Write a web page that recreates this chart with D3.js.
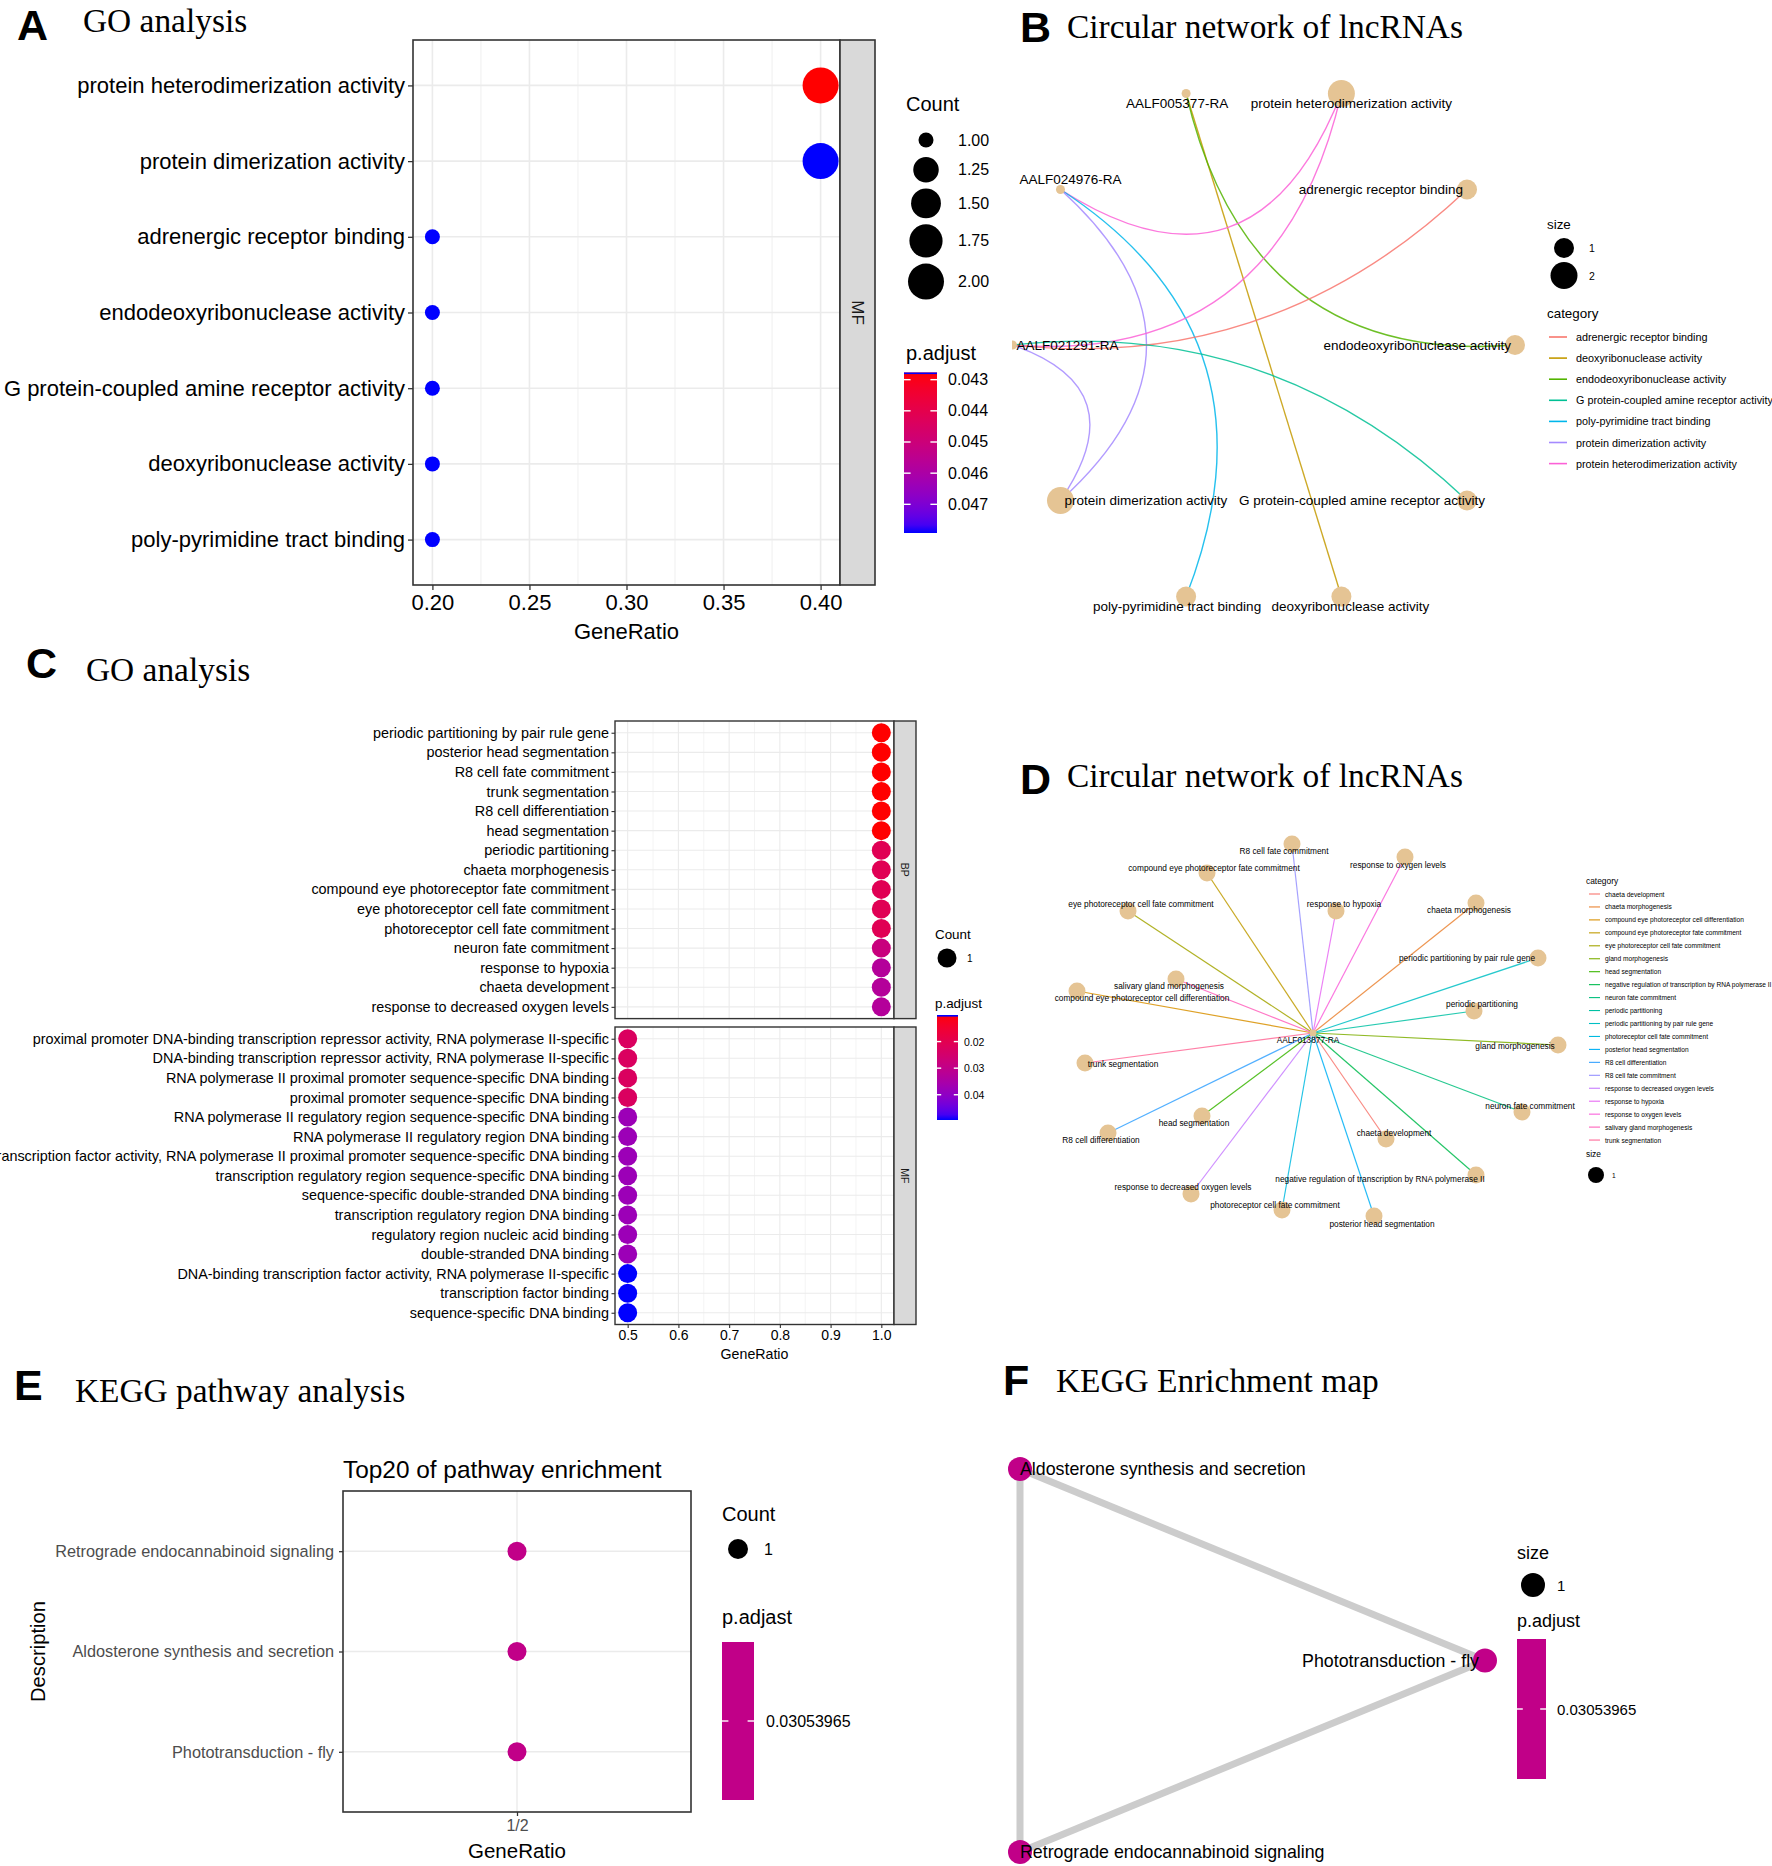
<!DOCTYPE html>
<html>
<head>
<meta charset="utf-8">
<script src="https://cdn.jsdelivr.net/npm/d3@7"></script>
<style>
  body { margin: 0; background: #fff; }
  svg { display: block; }
</style>
</head>
<body>
<svg id="fig" width="1772" height="1866"></svg>
<script>
// ---------- data ----------
// A: GO dot plot (MF)
var goA_terms = ["protein heterodimerization activity", "protein dimerization activity",
  "adrenergic receptor binding", "endodeoxyribonuclease activity",
  "G protein-coupled amine receptor activity", "deoxyribonuclease activity",
  "poly-pyrimidine tract binding"];
var goA_ratio = [0.4, 0.4, 0.2, 0.2, 0.2, 0.2, 0.2];
var goA_count = [2, 2, 1, 1, 1, 1, 1];
var goA_padj = [0.04277, 0.04792, 0.04792, 0.04792, 0.04792, 0.04792, 0.04792];
var goA_xticks = [0.20, 0.25, 0.30, 0.35, 0.40];
var goA_countBreaks = [1.00, 1.25, 1.50, 1.75, 2.00];
var goA_padjBreaks = [0.043, 0.044, 0.045, 0.046, 0.047];

// B: circular gene-concept network
var cnetB_circle = ["endodeoxyribonuclease activity", "adrenergic receptor binding",
  "protein heterodimerization activity", "AALF005377-RA", "AALF024976-RA", "AALF021291-RA",
  "protein dimerization activity", "poly-pyrimidine tract binding", "deoxyribonuclease activity",
  "G protein-coupled amine receptor activity"];
var cnetB_genes = ["AALF005377-RA", "AALF024976-RA", "AALF021291-RA"];
var cnetB_links = [
  ["AALF005377-RA", "deoxyribonuclease activity"],
  ["AALF005377-RA", "endodeoxyribonuclease activity"],
  ["AALF024976-RA", "protein heterodimerization activity"],
  ["AALF024976-RA", "poly-pyrimidine tract binding"],
  ["AALF024976-RA", "protein dimerization activity"],
  ["AALF021291-RA", "protein heterodimerization activity"],
  ["AALF021291-RA", "adrenergic receptor binding"],
  ["AALF021291-RA", "G protein-coupled amine receptor activity"],
  ["AALF021291-RA", "protein dimerization activity"]];
var cnetB_categories = ["adrenergic receptor binding", "deoxyribonuclease activity",
  "endodeoxyribonuclease activity", "G protein-coupled amine receptor activity",
  "poly-pyrimidine tract binding", "protein dimerization activity",
  "protein heterodimerization activity"];
var cnetB_sizeBreaks = [1, 2];

// C: GO dot plot, BP and MF facets
var goC_bp = ["periodic partitioning by pair rule gene", "posterior head segmentation",
  "R8 cell fate commitment", "trunk segmentation", "R8 cell differentiation", "head segmentation",
  "periodic partitioning", "chaeta morphogenesis", "compound eye photoreceptor fate commitment",
  "eye photoreceptor cell fate commitment", "photoreceptor cell fate commitment",
  "neuron fate commitment", "response to hypoxia", "chaeta development",
  "response to decreased oxygen levels"];
var goC_bpRatio = [1, 1, 1, 1, 1, 1, 1, 1, 1, 1, 1, 1, 1, 1, 1];
var goC_bpCount = [1, 1, 1, 1, 1, 1, 1, 1, 1, 1, 1, 1, 1, 1, 1];
var goC_bpPadj = [0.0100, 0.0100, 0.0100, 0.0100, 0.0100, 0.0100, 0.0207, 0.0207, 0.0207,
  0.0207, 0.0207, 0.0278, 0.0329, 0.0329, 0.0329];
var goC_mf = ["proximal promoter DNA-binding transcription repressor activity, RNA polymerase II-specific",
  "DNA-binding transcription repressor activity, RNA polymerase II-specific",
  "RNA polymerase II proximal promoter sequence-specific DNA binding",
  "proximal promoter sequence-specific DNA binding",
  "RNA polymerase II regulatory region sequence-specific DNA binding",
  "RNA polymerase II regulatory region DNA binding",
  "transcription factor activity, RNA polymerase II proximal promoter sequence-specific DNA binding",
  "transcription regulatory region sequence-specific DNA binding",
  "sequence-specific double-stranded DNA binding", "transcription regulatory region DNA binding",
  "regulatory region nucleic acid binding", "double-stranded DNA binding",
  "DNA-binding transcription factor activity, RNA polymerase II-specific",
  "transcription factor binding", "sequence-specific DNA binding"];
var goC_mfRatio = [0.5, 0.5, 0.5, 0.5, 0.5, 0.5, 0.5, 0.5, 0.5, 0.5, 0.5, 0.5, 0.5, 0.5, 0.5];
var goC_mfCount = [1, 1, 1, 1, 1, 1, 1, 1, 1, 1, 1, 1, 1, 1, 1];
var goC_mfPadj = [0.0226, 0.0226, 0.0226, 0.0226, 0.0377, 0.0377, 0.0377, 0.0377, 0.0377,
  0.0377, 0.0377, 0.0377, 0.0495, 0.0495, 0.0495];
var goC_xticks = [0.5, 0.6, 0.7, 0.8, 0.9, 1.0];
var goC_padjBreaks = [0.02, 0.03, 0.04];

// D: gene-concept network around one lncRNA (kk layout coordinates)
var cnetD_gene = "AALF013877-RA";
var cnetD_terms = ["chaeta development", "chaeta morphogenesis",
  "compound eye photoreceptor cell differentiation", "compound eye photoreceptor fate commitment",
  "eye photoreceptor cell fate commitment", "gland morphogenesis", "head segmentation",
  "negative regulation of transcription by RNA polymerase II", "neuron fate commitment",
  "periodic partitioning", "periodic partitioning by pair rule gene",
  "photoreceptor cell fate commitment", "posterior head segmentation", "R8 cell differentiation",
  "R8 cell fate commitment", "response to decreased oxygen levels", "response to hypoxia",
  "response to oxygen levels", "salivary gland morphogenesis", "trunk segmentation"];
var cnetD_lx = [0.73, 1.63, -2.36, -1.06, -1.85, 2.45, -1.11, 1.63, 2.09, 1.61, 2.25, -0.31,
  0.61, -2.05, -0.21, -1.22, 0.23, 0.92, -1.37, -2.28];
var cnetD_ly = [-1.06, 1.30, 0.42, 1.60, 1.22, -0.12, -0.83, -1.42, -0.79, 0.22, 0.75, -1.77,
  -1.83, -1.00, 1.89, -1.61, 1.22, 1.76, 0.54, -0.30];

// E: KEGG dot plot
var keggE_terms = ["Retrograde endocannabinoid signaling", "Aldosterone synthesis and secretion",
  "Phototransduction - fly"];
var keggE_ratio = ["1/2", "1/2", "1/2"];
var keggE_count = [1, 1, 1];
var keggE_padj = [0.03053965, 0.03053965, 0.03053965];

// F: KEGG enrichment map (layout coordinates)
var emapF_terms = ["Aldosterone synthesis and secretion", "Phototransduction - fly",
  "Retrograde endocannabinoid signaling"];
var emapF_lx = [0, 1, 0];
var emapF_ly = [1, 0.5, 0];
var emapF_links = [[0, 1], [0, 2], [1, 2]];
var emapF_padj = [0.03053965, 0.03053965, 0.03053965];

// ---------- helpers ----------
var SANS = '"Liberation Sans", Arial, Helvetica, sans-serif';
var SERIF = '"Liberation Serif", "Times New Roman", serif';
var NODE = "#E5C494";
var svg = d3.select("#fig");
var defs = svg.append("defs");

function txt(g, x, y, s, size, o) {
  o = o || {};
  var t = g.append("text").attr("x", x).attr("y", y).text(s)
    .attr("font-size", size)
    .attr("font-family", o.family || SANS)
    .attr("text-anchor", o.anchor || "start")
    .attr("dominant-baseline", o.base || "central")
    .attr("fill", o.fill || "#000");
  if (o.weight) t.attr("font-weight", o.weight);
  if (o.rotate) t.attr("transform", "rotate(" + o.rotate + "," + x + "," + y + ")");
  return t;
}

function expand(ext, f) {
  var d = (ext[1] - ext[0]) * f;
  return [ext[0] - d, ext[1] + d];
}

// ggplot's hue_pal (polar LUV, c=100, l=65)
function hue(h) {
  var Xn = 95.047, Yn = 100, Zn = 108.883, l = 65, c = 100;
  var den = Xn + 15 * Yn + 3 * Zn, un = 4 * Xn / den, vn = 9 * Yn / den;
  var hr = h * Math.PI / 180;
  var Y = Yn * Math.pow((l + 16) / 116, 3);
  var u = c * Math.cos(hr) / (13 * l) + un, v = c * Math.sin(hr) / (13 * l) + vn;
  var X = Y * 9 * u / (4 * v), Z = Y * (12 - 3 * u - 20 * v) / (4 * v);
  X /= 100; Y /= 100; Z /= 100;
  var lin = [3.240479 * X - 1.53715 * Y - 0.498535 * Z,
    -0.969256 * X + 1.875992 * Y + 0.041556 * Z,
    0.055648 * X - 0.204043 * Y + 1.057311 * Z];
  var rgb = lin.map(function(q) {
    q = q <= 0.0031308 ? 12.92 * q : 1.055 * Math.pow(q, 1 / 2.4) - 0.055;
    return Math.round(255 * Math.max(0, Math.min(1, q)));
  });
  return d3.rgb(rgb[0], rgb[1], rgb[2]).formatHex();
}
function huePal(n) {
  return d3.range(n).map(function(i) { return hue(15 + 360 * i / n); });
}

function padjScale(values) {
  return d3.scaleLinear().domain(d3.extent(values)).range(["red", "blue"])
    .interpolate(d3.interpolateLab);
}

function colorbar(o) {
  var dom = o.scale.domain();
  var grad = defs.append("linearGradient").attr("id", o.id)
    .attr("x1", 0).attr("y1", 0).attr("x2", 0).attr("y2", 1);
  d3.range(0, 1.0001, 0.05).forEach(function(t) {
    grad.append("stop").attr("offset", t)
      .attr("stop-color", o.scale(dom[0] + t * (dom[1] - dom[0])));
  });
  svg.append("rect").attr("x", o.x).attr("y", o.y).attr("width", o.w).attr("height", o.h)
    .attr("fill", "url(#" + o.id + ")");
  if (o.topLine) {
    svg.append("rect").attr("x", o.x).attr("y", o.y).attr("width", o.w).attr("height", 1.6)
      .attr("fill", "blue");
  }
  var yb = d3.scaleLinear().domain(dom).range([o.y, o.y + o.h]);
  var tl = o.w / 5;
  o.breaks.forEach(function(b) {
    var yy = dom[0] === dom[1] ? o.y + o.h / 2 : yb(b);
    svg.append("line").attr("x1", o.x).attr("x2", o.x + tl).attr("y1", yy).attr("y2", yy)
      .attr("stroke", "#fff").attr("stroke-width", 1.4);
    svg.append("line").attr("x1", o.x + o.w - tl).attr("x2", o.x + o.w).attr("y1", yy).attr("y2", yy)
      .attr("stroke", "#fff").attr("stroke-width", 1.4);
    txt(svg, o.labelX, yy, o.fmt(b), o.fs);
  });
}

// one ggplot-style dot plot facet
function dotFacet(o) {
  var g = svg.append("g");
  var y = d3.scalePoint().domain(o.terms).range([o.top, o.bottom]).padding(0.6);
  if (o.minor) {
    g.selectAll("line.minor").data(o.minor).join("line")
      .attr("x1", function(d) { return o.x(d); }).attr("x2", function(d) { return o.x(d); })
      .attr("y1", o.top).attr("y2", o.bottom)
      .attr("stroke", "#EBEBEB").attr("stroke-width", o.gw * 0.5);
  }
  g.selectAll("line.majx").data(o.xticks).join("line")
    .attr("x1", function(d) { return o.x(d); }).attr("x2", function(d) { return o.x(d); })
    .attr("y1", o.top).attr("y2", o.bottom)
    .attr("stroke", "#EBEBEB").attr("stroke-width", o.gw);
  g.selectAll("line.majy").data(o.terms).join("line")
    .attr("x1", o.left).attr("x2", o.right)
    .attr("y1", function(d) { return y(d); }).attr("y2", function(d) { return y(d); })
    .attr("stroke", "#EBEBEB").attr("stroke-width", o.gw);
  g.selectAll("circle").data(o.terms).join("circle")
    .attr("cx", function(d, i) { return o.x(o.ratio[i]); })
    .attr("cy", function(d) { return y(d); })
    .attr("r", function(d, i) { return o.r(o.count[i]); })
    .attr("fill", function(d, i) { return o.color(o.padj[i]); });
  g.append("rect").attr("x", o.left).attr("y", o.top)
    .attr("width", o.right - o.left).attr("height", o.bottom - o.top)
    .attr("fill", "none").attr("stroke", "#333").attr("stroke-width", o.bw);
  var ay = g.append("g").attr("transform", "translate(" + o.left + ",0)")
    .call(d3.axisLeft(y).tickSize(o.tick).tickPadding(o.pad));
  ay.select(".domain").remove();
  ay.selectAll("line").attr("stroke", "#333").attr("stroke-width", o.bw * 0.8);
  ay.selectAll("text").attr("font-size", o.fs).attr("font-family", SANS).attr("fill", o.textFill);
  if (o.strip) {
    g.append("rect").attr("x", o.right).attr("y", o.top).attr("width", o.stripW)
      .attr("height", o.bottom - o.top)
      .attr("fill", "#D9D9D9").attr("stroke", "#333").attr("stroke-width", o.bw);
    txt(g, o.right + o.stripW / 2, (o.top + o.bottom) / 2, o.strip, o.stripFs,
      { anchor: "middle", rotate: 90, fill: "#1A1A1A" });
  }
  return y;
}

function bottomAxis(x, yPos, ticks, fmt, o) {
  var ax = svg.append("g").attr("transform", "translate(0," + yPos + ")")
    .call(d3.axisBottom(x).tickValues(ticks).tickFormat(fmt).tickSize(o.tick).tickPadding(o.pad));
  ax.select(".domain").remove();
  ax.selectAll("line").attr("stroke", "#333").attr("stroke-width", o.bw * 0.8);
  ax.selectAll("text").attr("font-size", o.fs).attr("font-family", SANS).attr("fill", o.textFill);
}

// ---------- panel headers ----------
[["A", "GO analysis", 17, 40, 83, 32],
 ["B", "Circular network of lncRNAs", 1020, 42, 1067, 38],
 ["C", "GO analysis", 26, 678, 86, 681],
 ["D", "Circular network of lncRNAs", 1020, 794, 1067, 787],
 ["E", "KEGG pathway analysis", 14, 1400, 75, 1402],
 ["F", "KEGG Enrichment map", 1003, 1395, 1056, 1392]].forEach(function(h) {
  txt(svg, h[2], h[3], h[0], 43, { weight: "bold", base: "alphabetic" });
  txt(svg, h[4], h[5], h[1], 33.4, { family: SERIF, base: "alphabetic" });
});

// ---------- A ----------
(function() {
  var L = 413, R = 840, T = 40, B = 585;
  var x = d3.scaleLinear().domain(expand(d3.extent(goA_ratio), 0.05)).range([L, R]);
  var cExt = d3.extent(goA_count);
  var size = d3.scaleLinear().domain([0, 1]).range([7.5, 18]);
  var r = function(c) { return size(Math.sqrt((c - cExt[0]) / (cExt[1] - cExt[0]))); };
  var col = padjScale(goA_padj);
  var minor = d3.pairs(goA_xticks).map(function(p) { return (p[0] + p[1]) / 2; });
  dotFacet({ terms: goA_terms, ratio: goA_ratio, count: goA_count, padj: goA_padj,
    x: x, r: r, color: col, left: L, right: R, top: T, bottom: B, xticks: goA_xticks,
    minor: minor, gw: 1.6, bw: 1.6, tick: 5, pad: 3, fs: 22, textFill: "#000",
    strip: "MF", stripW: 35, stripFs: 17 });
  bottomAxis(x, B, goA_xticks, d3.format(".2f"),
    { tick: 5, pad: 4, fs: 22, bw: 1.6, textFill: "#000" });
  txt(svg, (L + R) / 2, 631, "GeneRatio", 22, { anchor: "middle" });

  txt(svg, 906, 104, "Count", 20);
  var ky = 126;
  goA_countBreaks.forEach(function(c) {
    var rr = r(c), h = Math.max(28, 2 * rr + 6), cy = ky + h / 2;
    svg.append("circle").attr("cx", 926).attr("cy", cy).attr("r", rr).attr("fill", "#000");
    txt(svg, 958, cy, d3.format(".2f")(c), 16);
    ky += h;
  });
  txt(svg, 906, 353, "p.adjust", 20);
  colorbar({ id: "gA", x: 904, y: 372.5, w: 33, h: 160.5, scale: col, breaks: goA_padjBreaks,
    labelX: 948, fs: 16, fmt: d3.format(".3f"), topLine: true });
})();

// ---------- B ----------
(function() {
  var pal = huePal(cnetB_categories.length);
  var col = d3.scaleOrdinal().domain(cnetB_categories).range(pal);
  var ang = d3.scaleLinear().domain([0, cnetB_circle.length]).range([0, 2 * Math.PI]);
  var x = d3.scaleLinear().domain([-1, 1]).range([1012.5, 1515]);
  var y = d3.scaleLinear().domain([-1, 1]).range([609.5, 80.5]);
  var pos = {};
  cnetB_circle.forEach(function(n, i) { pos[n] = [Math.cos(ang(i)), Math.sin(ang(i))]; });
  var counts = d3.rollup(cnetB_links, function(v) { return v.length; }, function(d) { return d[1]; });
  var size = d3.scaleLinear().domain(d3.extent(cnetB_sizeBreaks)).range([10, 13.5]);

  defs.append("clipPath").attr("id", "clipB").append("rect")
    .attr("x", 1012).attr("y", 50).attr("width", 760).attr("height", 600);
  var g = svg.append("g").attr("clip-path", "url(#clipB)");

  function arc(a, b) {
    var mx = (a[0] + b[0]) / 2, my = (a[1] + b[1]) / 2, m = Math.hypot(mx, my);
    var delta = Math.acos(Math.max(-1, Math.min(1, a[0] * b[0] + a[1] * b[1])));
    var k = m > 1e-6 ? 1 - 2 * 0.36 * Math.sin(delta) / m : 1;
    return "M" + x(a[0]) + "," + y(a[1]) + "Q" + x(mx * k) + "," + y(my * k) +
      " " + x(b[0]) + "," + y(b[1]);
  }
  g.selectAll("path.edge").data(cnetB_links).join("path")
    .attr("d", function(d) { return arc(pos[d[0]], pos[d[1]]); })
    .attr("fill", "none").attr("stroke", function(d) { return col(d[1]); })
    .attr("stroke-width", 1.4).attr("stroke-opacity", 0.85);
  g.selectAll("circle").data(cnetB_circle).join("circle")
    .attr("cx", function(d) { return x(pos[d][0]); })
    .attr("cy", function(d) { return y(pos[d][1]); })
    .attr("r", function(d) { return cnetB_genes.indexOf(d) >= 0 ? 4.5 : size(counts.get(d)); })
    .attr("fill", NODE);

  // label placement (repel-like nudges)
  var nudge = {
    "endodeoxyribonuclease activity": ["end", -4, 0],
    "adrenergic receptor binding": ["end", -4, 0],
    "protein heterodimerization activity": ["middle", 10, 10],
    "AALF005377-RA": ["middle", -9, 10],
    "AALF024976-RA": ["middle", 10, -10],
    "AALF021291-RA": ["start", 4, 0],
    "protein dimerization activity": ["start", 4, 0],
    "poly-pyrimidine tract binding": ["middle", -9, 10],
    "deoxyribonuclease activity": ["middle", 9, 10],
    "G protein-coupled amine receptor activity": ["end", 18, 0]
  };
  cnetB_circle.forEach(function(n) {
    var nd = nudge[n];
    txt(svg, x(pos[n][0]) + nd[1], y(pos[n][1]) + nd[2], n, 13.5, { anchor: nd[0] });
  });

  // legends
  txt(svg, 1547, 224, "size", 13.4);
  var ky = 236;
  cnetB_sizeBreaks.forEach(function(s) {
    var rr = size(s), h = 2 * rr + 4, cy = ky + h / 2;
    svg.append("circle").attr("cx", 1564).attr("cy", cy).attr("r", rr).attr("fill", "#000");
    txt(svg, 1589, cy, s, 10.5);
    ky += h;
  });
  txt(svg, 1547, 313, "category", 13.4);
  var ly = d3.scaleLinear().domain([0, 1]).range([337, 358.1]);
  cnetB_categories.forEach(function(c, i) {
    svg.append("line").attr("x1", 1549).attr("x2", 1567).attr("y1", ly(i)).attr("y2", ly(i))
      .attr("stroke", col(c)).attr("stroke-width", 1.6);
    txt(svg, 1576, ly(i), c, 10.8);
  });
})();

// ---------- C ----------
(function() {
  var L = 615, R = 894;
  var x = d3.scaleLinear().domain(expand([0.5, 1.0], 0.05)).range([L, R]);
  var col = padjScale(goC_bpPadj.concat(goC_mfPadj));
  var r = function() { return 9.5; };
  var minor = d3.pairs(goC_xticks).map(function(p) { return (p[0] + p[1]) / 2; });
  var common = { x: x, r: r, color: col, left: L, right: R, xticks: goC_xticks, minor: minor,
    gw: 1.1, bw: 1.4, tick: 3.5, pad: 2.5, fs: 14.4, textFill: "#000", stripW: 22, stripFs: 10.5 };
  dotFacet(Object.assign({ terms: goC_bp, ratio: goC_bpRatio, count: goC_bpCount, padj: goC_bpPadj,
    top: 721, bottom: 1018.6, strip: "BP" }, common));
  dotFacet(Object.assign({ terms: goC_mf, ratio: goC_mfRatio, count: goC_mfCount, padj: goC_mfPadj,
    top: 1027, bottom: 1324.5, strip: "MF" }, common));
  bottomAxis(x, 1324.5, goC_xticks, d3.format(".1f"),
    { tick: 3.5, pad: 2.5, fs: 14, bw: 1.4, textFill: "#000" });
  txt(svg, (L + R) / 2, 1354, "GeneRatio", 14.2, { anchor: "middle" });

  txt(svg, 935, 934, "Count", 13.4);
  svg.append("circle").attr("cx", 947).attr("cy", 958).attr("r", 9.5).attr("fill", "#000");
  txt(svg, 967, 958, "1", 10);
  txt(svg, 935, 1003, "p.adjust", 13.4);
  colorbar({ id: "gC", x: 937, y: 1015, w: 21, h: 105, scale: col, breaks: goC_padjBreaks,
    labelX: 964, fs: 10.5, fmt: d3.format(".2f"), topLine: true });
})();

// ---------- D ----------
(function() {
  var pal = huePal(cnetD_terms.length);
  var col = d3.scaleOrdinal().domain(cnetD_terms).range(pal);
  var x = d3.scaleLinear().domain([0, 1]).range([1313, 1413]);
  var y = d3.scaleLinear().domain([0, 1]).range([1033, 933]);
  var g = svg.append("g");
  g.selectAll("line").data(cnetD_terms).join("line")
    .attr("x1", x(0)).attr("y1", y(0))
    .attr("x2", function(d, i) { return x(cnetD_lx[i]); })
    .attr("y2", function(d, i) { return y(cnetD_ly[i]); })
    .attr("stroke", function(d) { return col(d); }).attr("stroke-width", 1.2)
    .attr("stroke-opacity", 0.85);
  g.selectAll("circle.term").data(cnetD_terms).join("circle")
    .attr("cx", function(d, i) { return x(cnetD_lx[i]); })
    .attr("cy", function(d, i) { return y(cnetD_ly[i]); })
    .attr("r", 8.5).attr("fill", NODE);
  g.append("circle").attr("cx", x(0)).attr("cy", y(0)).attr("r", 3.5).attr("fill", NODE);

  // repel-like label offsets
  var nudge = [[8, -6], [-7, 7], [65, 7], [7, -5], [13, -7], [-43, 1], [-8, 7], [-96, 4],
    [8, -6], [8, -7], [-71, 0], [-7, -5], [8, 8], [-7, 7], [-8, 7], [-8, -7], [8, -7],
    [-7, 8], [-7, 7], [38, 1]];
  cnetD_terms.forEach(function(t, i) {
    txt(svg, x(cnetD_lx[i]) + nudge[i][0], y(cnetD_ly[i]) + nudge[i][1], t, 8.3,
      { anchor: "middle" });
  });
  txt(svg, x(0) - 5, y(0) + 7, cnetD_gene, 8.3, { anchor: "middle" });

  txt(svg, 1586, 881, "category", 8.4);
  var ly = d3.scaleLinear().domain([0, 1]).range([894, 906.95]);
  cnetD_terms.forEach(function(t, i) {
    svg.append("line").attr("x1", 1589).attr("x2", 1600).attr("y1", ly(i)).attr("y2", ly(i))
      .attr("stroke", col(t)).attr("stroke-width", 1.1);
    txt(svg, 1605, ly(i), t, 6.6);
  });
  txt(svg, 1586, 1154, "size", 8.4);
  svg.append("circle").attr("cx", 1596).attr("cy", 1175).attr("r", 8).attr("fill", "#000");
  txt(svg, 1612, 1175, "1", 6.6);
})();

// ---------- E ----------
(function() {
  var L = 343, R = 691, T = 1491, B = 1812;
  var x = d3.scalePoint().domain(Array.from(new Set(keggE_ratio))).range([L, R]).padding(0.6);
  var col = padjScale(keggE_padj);
  dotFacet({ terms: keggE_terms, ratio: keggE_ratio, count: keggE_count, padj: keggE_padj,
    x: x, r: function() { return 9.5; }, color: col, left: L, right: R, top: T, bottom: B,
    xticks: x.domain(), gw: 1.4, bw: 1.6, tick: 4, pad: 5, fs: 16.3, textFill: "#4D4D4D" });
  bottomAxis(x, B, x.domain(), null, { tick: 4, pad: 4, fs: 16, bw: 1.6, textFill: "#4D4D4D" });
  txt(svg, L, 1469, "Top20 of pathway enrichment", 24.4);
  txt(svg, (L + R) / 2, 1850, "GeneRatio", 20.5, { anchor: "middle" });
  txt(svg, 38, (T + B) / 2, "Description", 20.2, { anchor: "middle", rotate: -90 });

  txt(svg, 722, 1514, "Count", 20);
  svg.append("circle").attr("cx", 738).attr("cy", 1549).attr("r", 10).attr("fill", "#000");
  txt(svg, 764, 1549, "1", 16);
  txt(svg, 722, 1617, "p.adjast", 20);
  colorbar({ id: "gE", x: 722, y: 1642, w: 32, h: 158, scale: col, breaks: [keggE_padj[0]],
    labelX: 766, fs: 16, fmt: d3.format(".8f") });
})();

// ---------- F ----------
(function() {
  var x = d3.scaleLinear().domain([0, 1]).range([1020, 1485]);
  var y = d3.scaleLinear().domain([0, 1]).range([1852, 1469]);
  var col = padjScale(emapF_padj);
  var g = svg.append("g");
  g.selectAll("line").data(emapF_links).join("line")
    .attr("x1", function(d) { return x(emapF_lx[d[0]]); })
    .attr("y1", function(d) { return y(emapF_ly[d[0]]); })
    .attr("x2", function(d) { return x(emapF_lx[d[1]]); })
    .attr("y2", function(d) { return y(emapF_ly[d[1]]); })
    .attr("stroke", "#CCCCCC").attr("stroke-width", 7);
  g.selectAll("circle").data(emapF_terms).join("circle")
    .attr("cx", function(d, i) { return x(emapF_lx[i]); })
    .attr("cy", function(d, i) { return y(emapF_ly[i]); })
    .attr("r", 12).attr("fill", function(d, i) { return col(emapF_padj[i]); });
  emapF_terms.forEach(function(t, i) {
    var right = emapF_lx[i] > 0.5;
    txt(svg, x(emapF_lx[i]) + (right ? -6 : 0), y(emapF_ly[i]), t, 17.8,
      { anchor: right ? "end" : "start" });
  });

  txt(svg, 1517, 1553, "size", 18);
  svg.append("circle").attr("cx", 1533).attr("cy", 1585).attr("r", 12).attr("fill", "#000");
  txt(svg, 1557, 1585, "1", 15);
  txt(svg, 1517, 1621, "p.adjust", 18);
  colorbar({ id: "gF", x: 1517, y: 1639, w: 29, h: 140, scale: col, breaks: [emapF_padj[0]],
    labelX: 1557, fs: 15, fmt: d3.format(".8f") });
})();
</script>
</body>
</html>
